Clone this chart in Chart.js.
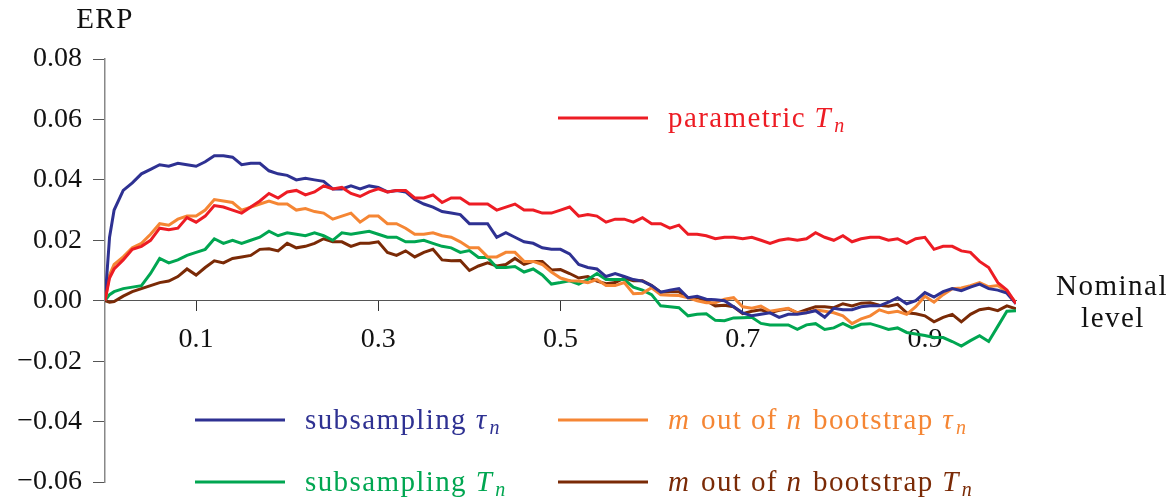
<!DOCTYPE html>
<html>
<head>
<meta charset="utf-8">
<script src="https://cdn.jsdelivr.net/npm/chart.js@4.4.1/dist/chart.umd.min.js"></script>
<style>
  html, body { margin: 0; padding: 0; background: #ffffff; }
  #wrap { width: 1174px; height: 499px; }
</style>
</head>
<body>
<div id="wrap"><canvas id="erp"></canvas></div>
<script>
// nominal level grid (x)
const levels = [0, 0.005,
  0.01, 0.02, 0.03, 0.04, 0.05, 0.06, 0.07, 0.08, 0.09, 0.10,
  0.11, 0.12, 0.13, 0.14, 0.15, 0.16, 0.17, 0.18, 0.19, 0.20,
  0.21, 0.22, 0.23, 0.24, 0.25, 0.26, 0.27, 0.28, 0.29, 0.30,
  0.31, 0.32, 0.33, 0.34, 0.35, 0.36, 0.37, 0.38, 0.39, 0.40,
  0.41, 0.42, 0.43, 0.44, 0.45, 0.46, 0.47, 0.48, 0.49, 0.50,
  0.51, 0.52, 0.53, 0.54, 0.55, 0.56, 0.57, 0.58, 0.59, 0.60,
  0.61, 0.62, 0.63, 0.64, 0.65, 0.66, 0.67, 0.68, 0.69, 0.70,
  0.71, 0.72, 0.73, 0.74, 0.75, 0.76, 0.77, 0.78, 0.79, 0.80,
  0.81, 0.82, 0.83, 0.84, 0.85, 0.86, 0.87, 0.88, 0.89, 0.90,
  0.91, 0.92, 0.93, 0.94, 0.95, 0.96, 0.97, 0.98, 0.99, 1.00];

// ERP, parametric T_n
const parametricT = [0, 0.0075,
  0.0105, 0.0135, 0.017, 0.018, 0.020, 0.024, 0.0235, 0.024, 0.0275, 0.026,
  0.028, 0.0315, 0.031, 0.030, 0.029, 0.031, 0.033, 0.0355, 0.034, 0.036,
  0.0365, 0.035, 0.036, 0.038, 0.037, 0.0375, 0.0355, 0.0345, 0.036, 0.037,
  0.036, 0.0365, 0.0365, 0.034, 0.034, 0.035, 0.0325, 0.034, 0.034, 0.032,
  0.032, 0.032, 0.030, 0.031, 0.032, 0.030, 0.030, 0.029, 0.029, 0.030,
  0.031, 0.028, 0.0285, 0.028, 0.026, 0.027, 0.027, 0.026, 0.0275, 0.0255,
  0.0255, 0.024, 0.025, 0.022, 0.022, 0.0215, 0.0205, 0.021, 0.021, 0.0205,
  0.021, 0.020, 0.019, 0.020, 0.0205, 0.020, 0.0205, 0.0225, 0.021, 0.020,
  0.0215, 0.0195, 0.0205, 0.021, 0.021, 0.020, 0.0205, 0.019, 0.0205, 0.021,
  0.017, 0.018, 0.018, 0.0165, 0.016, 0.013, 0.011, 0.006, 0.0035, -0.001];

// subsampling tau_n
const subTau = [0, 0.021,
  0.030, 0.0365, 0.039, 0.042, 0.0435, 0.045, 0.0445, 0.0455, 0.045, 0.0445,
  0.046, 0.048, 0.048, 0.0475, 0.045, 0.0455, 0.0455, 0.043, 0.042, 0.0415,
  0.040, 0.0405, 0.040, 0.0395, 0.037, 0.037, 0.038, 0.037, 0.038, 0.0375,
  0.036, 0.0365, 0.036, 0.0335, 0.032, 0.031, 0.0295, 0.029, 0.0285, 0.0255,
  0.0255, 0.0255, 0.021, 0.0225, 0.021, 0.0195, 0.019, 0.0175, 0.017, 0.017,
  0.0155, 0.012, 0.011, 0.0105, 0.008, 0.009, 0.008, 0.007, 0.0065, 0.005,
  0.0028, 0.0035, 0.004, 0.001, 0.0015, 0.0005, 0.0003, 0, -0.002, -0.004,
  -0.005, -0.0045, -0.004, -0.0055, -0.0045, -0.0045, -0.004, -0.0033, -0.0055, -0.0025,
  -0.003, -0.003, -0.002, -0.0017, -0.0017, -0.0005, 0.001, -0.001, 0, 0.0027,
  0.0012, 0.003, 0.004, 0.0033, 0.0045, 0.0055, 0.004, 0.0035, 0.0025, -0.001];

// m out of n bootstrap tau_n
const bootTau = [0, 0.0085,
  0.012, 0.0145, 0.0175, 0.019, 0.022, 0.0255, 0.025, 0.027, 0.028, 0.028,
  0.030, 0.0335, 0.033, 0.0325, 0.030, 0.031, 0.032, 0.033, 0.032, 0.032,
  0.030, 0.0305, 0.0295, 0.029, 0.027, 0.028, 0.029, 0.026, 0.028, 0.028,
  0.0255, 0.0255, 0.024, 0.022, 0.022, 0.0225, 0.0215, 0.021, 0.0195, 0.0175,
  0.0175, 0.0145, 0.0145, 0.016, 0.016, 0.013, 0.013, 0.012, 0.0095, 0.0075,
  0.0066, 0.0065, 0.006, 0.007, 0.005, 0.005, 0.006, 0.0023, 0.0025, 0.0043,
  0.002, 0.0018, 0.0017, 0.001, 0, -0.0007, -0.0007, 0.0005, 0.001, -0.002,
  -0.0025, -0.0018, -0.0035, -0.003, -0.0025, -0.004, -0.004, -0.003, -0.0035, -0.004,
  -0.005, -0.0076, -0.006, -0.005, -0.003, -0.004, -0.0035, -0.0045, -0.002, 0.0015,
  -0.0005, 0.002, 0.004, 0.0042, 0.005, 0.006, 0.0046, 0.005, 0.003, -0.0007];

// subsampling T_n
const subT = [0, 0.002,
  0.003, 0.004, 0.0045, 0.005, 0.009, 0.014, 0.0125, 0.0135, 0.015, 0.016,
  0.017, 0.0205, 0.019, 0.020, 0.019, 0.020, 0.021, 0.023, 0.0215, 0.0225,
  0.022, 0.0215, 0.0225, 0.0215, 0.020, 0.0225, 0.022, 0.0225, 0.023, 0.022,
  0.021, 0.021, 0.0195, 0.0195, 0.020, 0.019, 0.018, 0.0175, 0.016, 0.0166,
  0.0143, 0.0143, 0.011, 0.011, 0.0113, 0.0095, 0.0105, 0.0085, 0.0055, 0.006,
  0.0066, 0.0055, 0.007, 0.009, 0.007, 0.007, 0.007, 0.0045, 0.0035, 0.002,
  -0.0017, -0.002, -0.0023, -0.005, -0.0045, -0.0043, -0.0065, -0.0066, -0.0057, -0.0056,
  -0.0055, -0.0075, -0.008, -0.008, -0.008, -0.0095, -0.008, -0.0076, -0.0095, -0.009,
  -0.0075, -0.009, -0.0078, -0.0076, -0.0085, -0.0095, -0.009, -0.0105, -0.011, -0.0115,
  -0.0122, -0.0122, -0.0135, -0.015, -0.0132, -0.0116, -0.0135, -0.0085, -0.0035, -0.0033];

// m out of n bootstrap T_n
const bootT = [0, -0.0005,
  -0.0003, 0.0015, 0.003, 0.004, 0.005, 0.006, 0.0065, 0.008, 0.0105, 0.0085,
  0.011, 0.0132, 0.0125, 0.014, 0.0145, 0.015, 0.017, 0.0172, 0.0165, 0.019,
  0.0175, 0.018, 0.019, 0.0205, 0.0195, 0.0195, 0.018, 0.019, 0.019, 0.0195,
  0.016, 0.015, 0.0165, 0.0145, 0.016, 0.017, 0.0135, 0.0132, 0.0133, 0.010,
  0.0115, 0.0125, 0.0115, 0.012, 0.014, 0.012, 0.013, 0.013, 0.0102, 0.0103,
  0.009, 0.0075, 0.008, 0.0065, 0.0056, 0.006, 0.0075, 0.0066, 0.0066, 0.005,
  0.0028, 0.003, 0.003, 0.001, 0.001, 0, -0.0017, -0.0015, -0.002, -0.0043,
  -0.0035, -0.003, -0.004, -0.0032, -0.0027, -0.004, -0.003, -0.002, -0.002, -0.0023,
  -0.001, -0.0017, -0.0008, -0.0007, -0.0015, -0.0018, -0.0012, -0.004, -0.0043, -0.005,
  -0.007, -0.0055, -0.0045, -0.007, -0.0045, -0.003, -0.0025, -0.0033, -0.0017, -0.0027];

const xTicks = [0.1, 0.3, 0.5, 0.7, 0.9];
const yTicks = [-0.06, -0.04, -0.02, 0, 0.02, 0.04, 0.06, 0.08];

const SERIF = '"Liberation Serif", "Times New Roman", serif';
const FS = 28;     // tick labels
const LFS = 29;    // legend / axis titles

function pts(ys) {
    return levels.map((x, i) => ({ x: x, y: ys[i] }));
}

function fmtY(v) {
    const s = Math.abs(v).toFixed(2);
    return v < -1e-9 ? '\u2212' + s : s;
}

// legend entries: text pieces (it = italic, sub = subscript)
const legendSpec = [
    { ds: 0, x: 558, y: 118, parts: [{ t: 'parametric ' }, { t: 'T', it: true }, { t: 'n', it: true, sub: true }] },
    { ds: 1, x: 195, y: 420, parts: [{ t: 'subsampling ' }, { t: '\u03C4', it: true }, { t: 'n', it: true, sub: true }] },
    { ds: 2, x: 558, y: 420, parts: [{ t: 'm', it: true }, { t: ' out of ' }, { t: 'n', it: true }, { t: ' bootstrap ' }, { t: '\u03C4', it: true }, { t: 'n', it: true, sub: true }] },
    { ds: 3, x: 195, y: 482, parts: [{ t: 'subsampling ' }, { t: 'T', it: true }, { t: 'n', it: true, sub: true }] },
    { ds: 4, x: 558, y: 482, parts: [{ t: 'm', it: true }, { t: ' out of ' }, { t: 'n', it: true }, { t: ' bootstrap ' }, { t: 'T', it: true }, { t: 'n', it: true, sub: true }] }
];

const textPlugin = {
    id: 'erpText',
    afterDraw(chart) {
        const ctx = chart.ctx;
        ctx.save();
        ctx.textBaseline = 'alphabetic';

        // axis titles
        ctx.fillStyle = '#111';
        ctx.font = LFS + 'px ' + SERIF;
        ctx.textAlign = 'center';
        ctx.letterSpacing = '1.5px';
        ctx.fillText('ERP', chart.chartArea.left, 28);
        ctx.fillText('Nominal', 1112, 295);
        ctx.fillText('level', 1113, 327);

        // legend
        ctx.textAlign = 'left';
        ctx.letterSpacing = '1.4px';
        legendSpec.forEach(item => {
            const color = chart.data.datasets[item.ds].borderColor;
            ctx.strokeStyle = color;
            ctx.lineWidth = 3;
            ctx.beginPath();
            ctx.moveTo(item.x, item.y);
            ctx.lineTo(item.x + 90, item.y);
            ctx.stroke();

            ctx.fillStyle = color;
            let tx = item.x + 110;
            const base = item.y + 9;
            item.parts.forEach(p => {
                const size = p.sub ? 20 : LFS;
                ctx.font = (p.it ? 'italic ' : '') + size + 'px ' + SERIF;
                ctx.fillText(p.t, tx, base + (p.sub ? 5 : 0));
                tx += ctx.measureText(p.t).width + (p.it && !p.sub ? 2 : 0);
            });
        });
        ctx.restore();
    }
};

const colors = {
    red: '#ED1C24',
    blue: '#2E3192',
    orange: '#F58634',
    green: '#00A651',
    brown: '#7A2A06'
};

function serie(label, ys, color) {
    return {
        label: label,
        data: pts(ys),
        borderColor: color,
        backgroundColor: color,
        borderWidth: 3,
        pointRadius: 0,
        tension: 0,
        fill: false
    };
}

new Chart(document.getElementById('erp'), {
    type: 'line',
    data: {
        datasets: [
            serie('parametric Tn', parametricT, colors.red),
            serie('subsampling \u03C4n', subTau, colors.blue),
            serie('m out of n bootstrap \u03C4n', bootTau, colors.orange),
            serie('subsampling Tn', subT, colors.green),
            serie('m out of n bootstrap Tn', bootT, colors.brown)
        ]
    },
    options: {
        responsive: true,
        maintainAspectRatio: false,
        animation: false,
        layout: {
            padding: { left: 0, top: 59, right: 158, bottom: 17 }
        },
        plugins: {
            legend: { display: false },
            tooltip: { enabled: false }
        },
        scales: {
            x: {
                type: 'linear',
                min: 0,
                max: 1,
                position: { y: 0 },
                afterBuildTicks: (s) => { s.ticks = xTicks.map(v => ({ value: v })); },
                afterFit: (s) => {
                    s.paddingLeft = 0; s.paddingRight = 0;
                    s.paddingTop = 0; s.paddingBottom = 0;
                },
                grid: { drawOnChartArea: false, drawTicks: true, tickLength: 10, color: '#333', lineWidth: 1 },
                border: { color: '#555', width: 1 },
                ticks: {
                    color: '#111',
                    padding: 12,
                    autoSkip: false,
                    maxRotation: 0,
                    font: { family: SERIF, size: FS },
                    callback: (v) => Number(v).toFixed(1)
                }
            },
            y: {
                min: -0.06,
                max: 0.08,
                afterBuildTicks: (s) => { s.ticks = yTicks.map(v => ({ value: v })); },
                afterFit: (s) => {
                    s.width = 105;
                    s.paddingTop = 0; s.paddingBottom = 0;
                },
                grid: { drawOnChartArea: false, drawTicks: true, tickLength: 12, color: '#555', lineWidth: 1 },
                border: { color: '#888', width: 1.5 },
                ticks: {
                    color: '#111',
                    padding: 11,
                    font: { family: SERIF, size: FS },
                    callback: (v) => fmtY(v)
                }
            }
        }
    },
    plugins: [textPlugin]
});
</script>
</body>
</html>
